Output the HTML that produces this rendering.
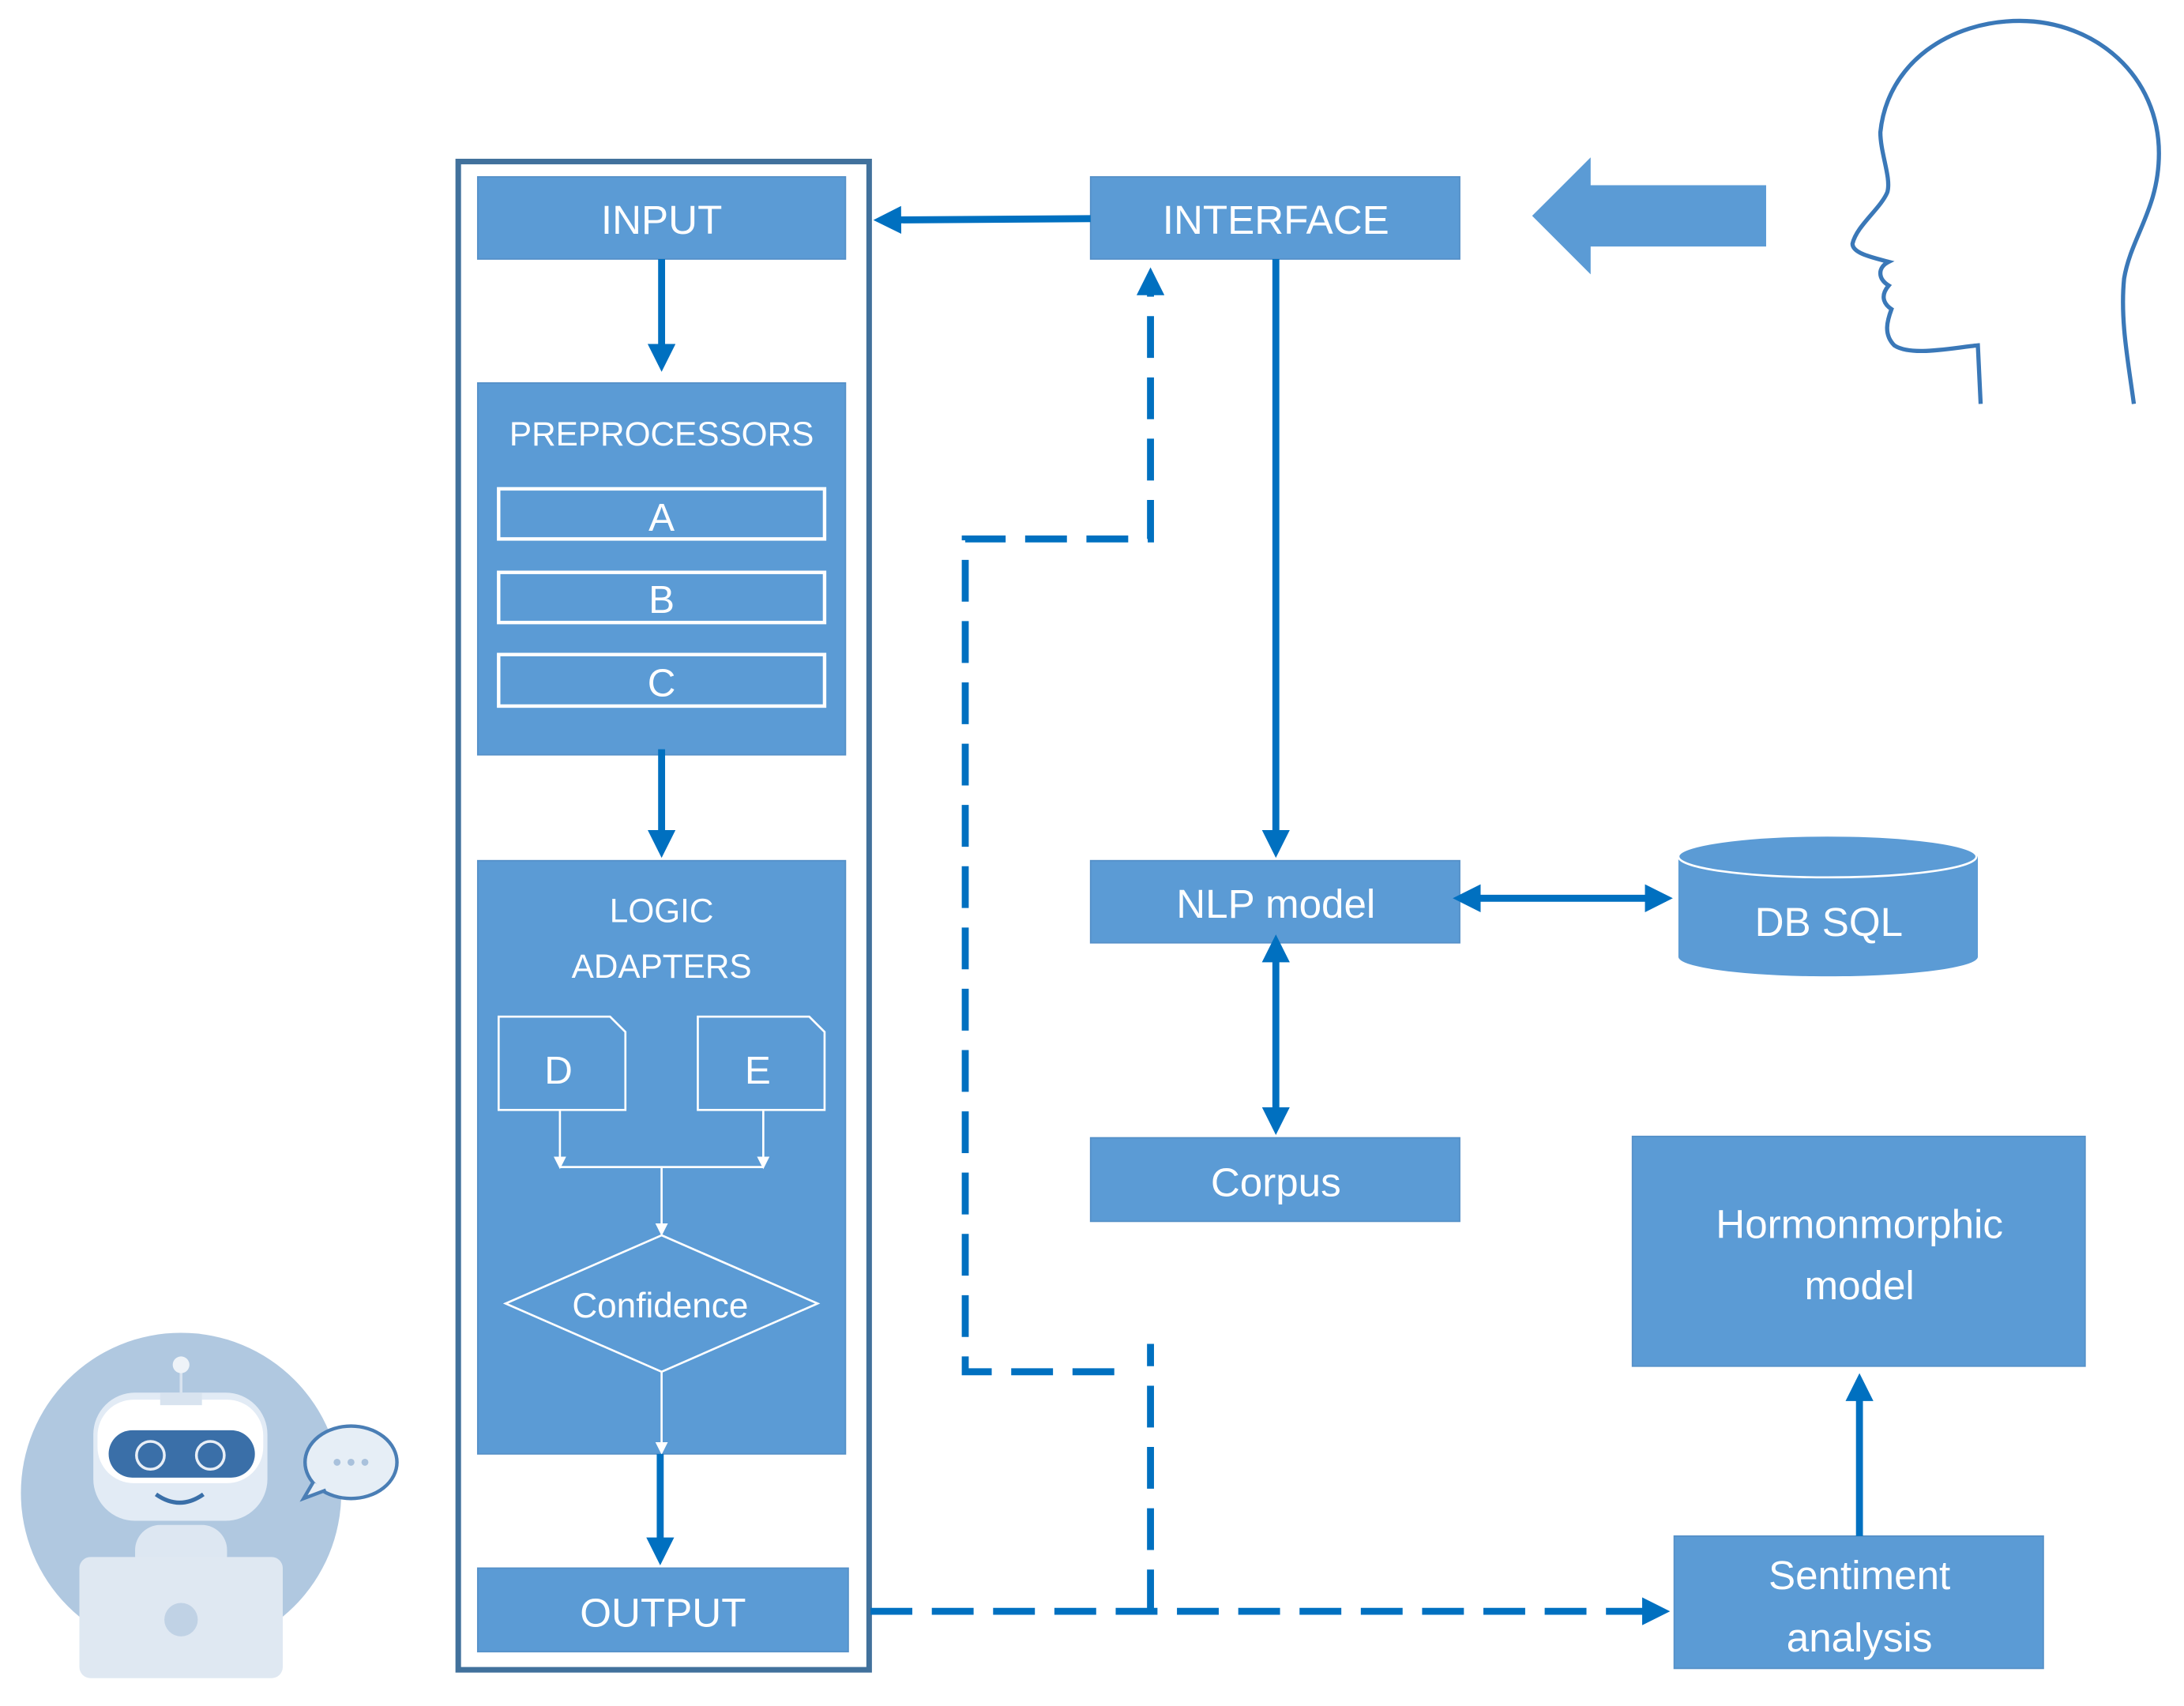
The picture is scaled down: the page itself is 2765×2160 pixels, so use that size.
<!DOCTYPE html>
<html><head><meta charset="utf-8"><style>
html,body{margin:0;padding:0;background:#fff}
svg{display:block}
text{font-family:"Liberation Sans",sans-serif;fill:#fff;text-anchor:middle}
</style></head><body>
<svg width="2765" height="2160" viewBox="0 0 1568 1225" preserveAspectRatio="none" xmlns="http://www.w3.org/2000/svg">
<defs>
<marker id="ah" markerWidth="4" markerHeight="4" refX="3" refY="2" orient="auto" markerUnits="strokeWidth"><path d="M0,0 L4,2 L0,4 z" fill="#0070c0"/></marker>
<marker id="ahs" markerWidth="4" markerHeight="4" refX="1" refY="2" orient="auto-start-reverse" markerUnits="strokeWidth"><path d="M0,0 L4,2 L0,4 z" fill="#0070c0"/></marker>
<marker id="wh" markerWidth="6" markerHeight="6" refX="5" refY="3" orient="auto" markerUnits="strokeWidth"><path d="M0,0 L6,3 L0,6 z" fill="#fff"/></marker>
</defs>
<!-- robot -->
<circle cx="130" cy="1072" r="115" fill="#b0c8e0"/>
<rect x="97" y="1095" width="66" height="40" rx="18" fill="#dde7f2"/>
<rect x="67" y="1000" width="125" height="92" rx="30" fill="#e2ebf5"/>
<rect x="70" y="1005" width="119" height="60" rx="26" fill="#fff"/>
<rect x="78" y="1027" width="105" height="34" rx="17" fill="#3a6fa8"/>
<circle cx="108" cy="1045" r="10" fill="none" stroke="#e8eef6" stroke-width="2"/>
<circle cx="151" cy="1045" r="10" fill="none" stroke="#e8eef6" stroke-width="2"/>
<path d="M112,1073 Q129,1085 146,1073" fill="none" stroke="#3a6fa8" stroke-width="3"/>
<rect x="115" y="1000" width="30" height="9" fill="#d8e3ef"/>
<line x1="130" y1="982" x2="130" y2="1000" stroke="#d8e3ef" stroke-width="2"/>
<circle cx="130" cy="980" r="6" fill="#eef3f8"/>
<rect x="57" y="1118" width="146" height="87" rx="8" fill="#dfe8f2"/>
<circle cx="130" cy="1163" r="12" fill="#c0d2e5"/>
<ellipse cx="252" cy="1050" rx="33" ry="26" fill="#e6eef6" stroke="#4a7eb5" stroke-width="2.5"/>
<path d="M225,1064 L218,1076 L234,1070" fill="#e6eef6" stroke="#4a7eb5" stroke-width="2.5"/>
<circle cx="242" cy="1050" r="2.5" fill="#a9c1dc"/><circle cx="252" cy="1050" r="2.5" fill="#a9c1dc"/><circle cx="262" cy="1050" r="2.5" fill="#a9c1dc"/>
<!-- head -->
<path d="M1422,290 L1420,248 C1400,250 1372,256 1360,248 C1352,240 1355,230 1358,222 C1352,218 1350,212 1356,205 C1348,200 1348,192 1356,188 C1345,185 1330,182 1330,175 C1333,162 1350,150 1355,138 C1358,128 1350,110 1350,95 C1355,45 1400,15 1450,15 C1505,15 1550,55 1550,110 C1550,150 1530,170 1525,200 C1522,230 1528,260 1532,290" fill="none" stroke="#3a78b8" stroke-width="3"/>
<!-- big arrow -->
<path d="M1268,133 L1142,133 L1142,113 L1100,155 L1142,197 L1142,177 L1268,177 z" fill="#5b9bd5"/>
<!-- outer frame -->
<rect x="329" y="116" width="295" height="1083" fill="none" stroke="#41719c" stroke-width="4"/>
<g fill="#5b9bd5" stroke="#5590c8" stroke-width="1">
<rect x="343" y="127" width="264" height="59"/>
<rect x="343" y="275" width="264" height="267"/>
<rect x="343" y="618" width="264" height="426"/>
<rect x="343" y="1126" width="266" height="60"/>
<rect x="783" y="127" width="265" height="59"/>
<rect x="783" y="618" width="265" height="59"/>
<rect x="783" y="817" width="265" height="60"/>
<rect x="1172" y="816" width="325" height="165"/>
<rect x="1202" y="1103" width="265" height="95"/>
</g>
<!-- DB cylinder -->
<path d="M1205,615 L1205,687 A107,14 0 0 0 1420,687 L1420,615" fill="#5b9bd5"/>
<ellipse cx="1312" cy="615" rx="107" ry="15" fill="#5b9bd5" stroke="#fff" stroke-width="1.5"/>
<!-- ABC -->
<g fill="none" stroke="#fff" stroke-width="2.5">
<rect x="358" y="351" width="234" height="36"/>
<rect x="358" y="411" width="234" height="36"/>
<rect x="358" y="470" width="234" height="37"/>
</g>
<g fill="none" stroke="#fff" stroke-width="1.5">
<path d="M358,730 L438,730 L449,741 L449,797 L358,797 z"/>
<path d="M501,730 L581,730 L592,741 L592,797 L501,797 z"/>
<path d="M475,887 L587,936 L475,985 L363,936 z"/>
<line x1="402" y1="797" x2="402" y2="838" marker-end="url(#wh)"/>
<line x1="548" y1="797" x2="548" y2="838" marker-end="url(#wh)"/>
<line x1="402" y1="838" x2="548" y2="838"/>
<line x1="475" y1="838" x2="475" y2="886" marker-end="url(#wh)"/>
<line x1="475" y1="985" x2="475" y2="1043" marker-end="url(#wh)"/>
</g>
<!-- connectors -->
<g stroke="#0070c0" stroke-width="5" fill="none">
<line x1="475" y1="186" x2="475" y2="262" marker-end="url(#ah)"/>
<line x1="475" y1="538" x2="475" y2="611" marker-end="url(#ah)"/>
<line x1="474" y1="1044" x2="474" y2="1119" marker-end="url(#ah)"/>
<line x1="783" y1="157" x2="632" y2="158" marker-end="url(#ah)"/>
<line x1="916" y1="186" x2="916" y2="611" marker-end="url(#ah)"/>
<line x1="1058" y1="645" x2="1196" y2="645" marker-start="url(#ahs)" marker-end="url(#ah)"/>
<line x1="916" y1="686" x2="916" y2="810" marker-start="url(#ahs)" marker-end="url(#ah)"/>
<line x1="1335" y1="1103" x2="1335" y2="991" marker-end="url(#ah)"/>
</g>
<g stroke="#0070c0" stroke-width="5" fill="none" stroke-dasharray="30,14">
<line x1="625" y1="1157" x2="1194" y2="1157" marker-end="url(#ah)"/>
<line x1="826" y1="1157" x2="826" y2="965"/>
<path d="M800,985 L693,985 L693,387 L826,387 L826,197" marker-end="url(#ah)"/>
</g>
<!-- labels -->
<g font-size="29">
<text x="475" y="168">INPUT</text>
<text x="916" y="168">INTERFACE</text>
<text x="476" y="1168">OUTPUT</text>
<text x="916" y="659">NLP model</text>
<text x="916" y="859">Corpus</text>
<text x="1313" y="672">DB SQL</text>
<text x="1335" y="889">Hormonmorphic</text>
<text x="1335" y="933">model</text>
<text x="1335" y="1141">Sentiment</text>
<text x="1335" y="1186">analysis</text>
</g>
<g font-size="24">
<text x="475" y="320">PREPROCESSORS</text>
<text x="475" y="662">LOGIC</text>
<text x="475" y="702">ADAPTERS</text>
</g>
<g font-size="28">
<text x="475" y="381">A</text>
<text x="475" y="440">B</text>
<text x="475" y="500">C</text>
<text x="401" y="778">D</text>
<text x="544" y="778">E</text>
</g>
<text x="474" y="946" font-size="25">Confidence</text>
</svg>
</body></html>
